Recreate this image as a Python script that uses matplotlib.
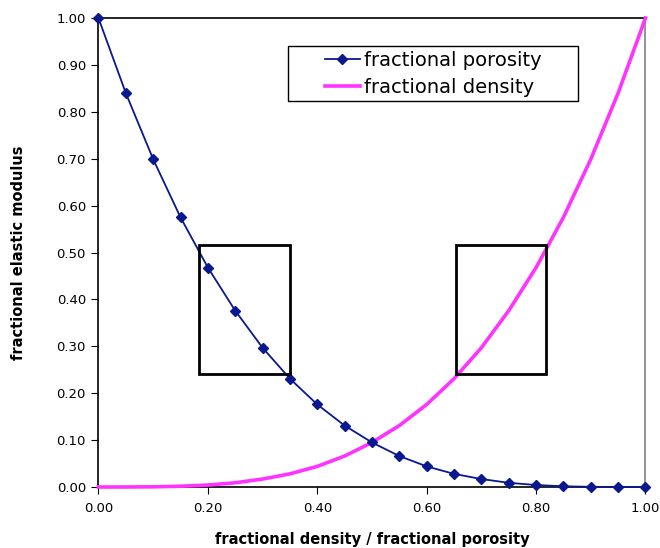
import matplotlib
matplotlib.use("Agg")
import matplotlib.pyplot as plt
from matplotlib.patches import Rectangle
from matplotlib.ticker import FormatStrFormatter

x_vals = [0.00, 0.05, 0.10, 0.15, 0.20, 0.25, 0.30, 0.35, 0.40, 0.45, 0.50,
          0.55, 0.60, 0.65, 0.70, 0.75, 0.80, 0.85, 0.90, 0.95, 1.00]
porosity = [1.000, 0.840, 0.699, 0.575, 0.468, 0.376, 0.297, 0.231, 0.176, 0.131, 0.095,
            0.066, 0.044, 0.028, 0.017, 0.009, 0.0042, 0.0016, 0.0004, 0.00004, 0.000]
density = [0.000, 0.00004, 0.0004, 0.0016, 0.0042, 0.009, 0.017, 0.028, 0.044, 0.066, 0.095,
           0.131, 0.176, 0.231, 0.297, 0.376, 0.468, 0.575, 0.699, 0.840, 1.000]
x_ticks = [0.0, 0.2, 0.4, 0.6, 0.8, 1.0]
y_ticks = [0.0, 0.1, 0.2, 0.3, 0.4, 0.5, 0.6, 0.7, 0.8, 0.9, 1.0]
# highlight boxes: (x0, y0, x1, y1)
boxes = [(0.184, 0.242, 0.350, 0.516), (0.654, 0.242, 0.819, 0.516)]

fig = plt.figure(figsize=(6.6, 5.48), dpi=100)
ax = fig.add_axes([0.1492, 0.1113, 0.8288, 0.8557])

ax.plot(x_vals, density, color='#FF33FF', lw=2.6, label='fractional density', zorder=3, clip_on=False)
ax.plot(x_vals, porosity, color='#0A1890', lw=1.3, marker='D', markersize=5.2,
        label='fractional porosity', zorder=4, clip_on=False)

for (x0, y0, x1, y1) in boxes:
    ax.add_patch(Rectangle((x0, y0), x1 - x0, y1 - y0, fill=False, edgecolor='black', lw=2, zorder=5))

ax.set_xlim(0, 1)
ax.set_ylim(0, 1)
ax.set_xticks(x_ticks)
ax.set_yticks(y_ticks)
ax.xaxis.set_major_formatter(FormatStrFormatter('%.2f'))
ax.yaxis.set_major_formatter(FormatStrFormatter('%.2f'))
ax.tick_params(direction='out', length=5, labelsize=9.5, colors='black', pad=4)
ax.tick_params(axis='x', pad=6)

ax.spines['top'].set_color('black')
ax.spines['right'].set_color('#808080')
for s in ax.spines.values():
    s.set_linewidth(1.2)

ax.set_xlabel('fractional density / fractional porosity', fontsize=10.5, fontweight='bold', labelpad=12)
ax.set_ylabel('fractional elastic modulus', fontsize=10.5, fontweight='bold', labelpad=22)

# legend frame
ax.add_patch(Rectangle((0.347, 0.823), 0.529, 0.118, transform=ax.transAxes, fill=True,
                       facecolor='white', edgecolor='black', lw=1.0, zorder=6))
handles, labels = ax.get_legend_handles_labels()
leg = ax.legend(handles[::-1], labels[::-1], loc='center left', bbox_to_anchor=(0.414, 0.881),
                borderaxespad=0, borderpad=0, frameon=False,
                fontsize=14, handlelength=1.8, labelspacing=0.4,
                handletextpad=0.2)
leg.set_zorder(7)

fig.savefig('out.png', dpi=100)
